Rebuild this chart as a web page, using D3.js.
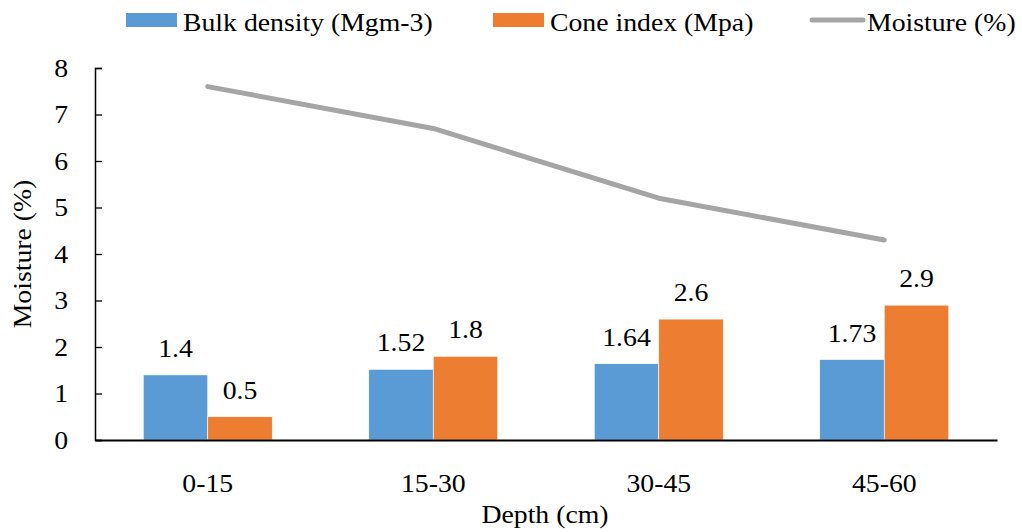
<!DOCTYPE html>
<html>
<head>
<meta charset="utf-8">
<script src="https://cdn.jsdelivr.net/npm/d3@7"></script>
<style>
  body { margin: 0; background: #fff; }
</style>
</head>
<body>
<svg id="chart" width="1022" height="532"></svg>
<script>
// data
const depths = ["0-15", "15-30", "30-45", "45-60"];
const bulkDensity = [1.4, 1.52, 1.64, 1.73];
const coneIndex = [0.5, 1.8, 2.6, 2.9];
const moisture = [7.6, 6.7, 5.2, 4.3];
const yTicks = [0, 1, 2, 3, 4, 5, 6, 7, 8];

const barSeries = [
  { key: "bulk", name: "Bulk density (Mgm-3)", values: bulkDensity, color: "#5b9bd5" },
  { key: "cone", name: "Cone index (Mpa)", values: coneIndex, color: "#ed7d31" }
];

const svg = d3.select("#chart");
const plotLeft = 95, plotRight = 997, plotTop = 68, plotBottom = 440;
const font = "'Liberation Serif', 'Times New Roman', Tinos, serif";
const fs = 25;
const stretch = 1.11; // reference text is a bit wider than it is tall

const x = d3.scaleBand().domain(depths).range([plotLeft, plotRight]).padding(0);
const inner = d3.scaleBand().domain(barSeries.map(s => s.key))
  .range([-64.5, 64.5]).padding(0);
const y = d3.scaleLinear().domain([0, 8]).range([plotBottom, plotTop]);

// bars
barSeries.forEach(s => {
  const g = svg.append("g");
  g.selectAll("rect")
    .data(depths)
    .enter().append("rect")
    .attr("x", (d, i) => x(d) + x.bandwidth() / 2 + inner(s.key))
    .attr("y", (d, i) => y(s.values[i]))
    .attr("width", inner.bandwidth())
    .attr("height", (d, i) => y(0) - y(s.values[i]))
    .attr("fill", s.color)
    .attr("stroke", "#fff")
    .attr("stroke-width", 0.6);

  g.selectAll("text")
    .data(depths)
    .enter().append("text")
    .attr("x", (d, i) => x(d) + x.bandwidth() / 2 + inner(s.key) + inner.bandwidth() / 2)
    .attr("y", (d, i) => y(s.values[i]) - 18)
    .attr("text-anchor", "middle")
    .text((d, i) => s.values[i]);
});

// moisture line
const line = d3.line()
  .x((d, i) => x(depths[i]) + x.bandwidth() / 2)
  .y(d => y(d));

svg.append("path")
  .datum(moisture)
  .attr("d", line)
  .attr("fill", "none")
  .attr("stroke", "#a5a5a5")
  .attr("stroke-width", 5)
  .attr("stroke-linecap", "round")
  .attr("stroke-linejoin", "round");

// y axis
const yAxis = svg.append("g")
  .attr("transform", `translate(${plotLeft},0)`)
  .call(d3.axisLeft(y).tickValues(yTicks).tickSizeInner(-7).tickSizeOuter(-7).tickPadding(27));
yAxis.select(".domain").attr("stroke", "#000").attr("stroke-width", 1.5);
yAxis.selectAll(".tick line").attr("stroke", "#000").attr("stroke-width", 1.3);

// x axis
const xAxis = svg.append("g")
  .attr("transform", `translate(0,${plotBottom})`)
  .call(d3.axisBottom(x).tickSize(0).tickPadding(34));
xAxis.select(".domain").attr("stroke", "#000").attr("stroke-width", 1.8);

// axis titles
svg.append("text")
  .attr("transform", "translate(31,254) rotate(-90)")
  .attr("text-anchor", "middle")
  .text("Moisture (%)");

svg.append("text")
  .attr("x", 545)
  .attr("y", 523)
  .attr("text-anchor", "middle")
  .text("Depth (cm)");

// legend
const legend = svg.append("g");
const legendItems = [
  { name: barSeries[0].name, color: barSeries[0].color, type: "rect", x: 126 },
  { name: barSeries[1].name, color: barSeries[1].color, type: "rect", x: 493 },
  { name: "Moisture (%)", color: "#a5a5a5", type: "line", x: 810 }
];
legendItems.forEach(it => {
  if (it.type === "rect") {
    legend.append("rect")
      .attr("x", it.x).attr("y", 13)
      .attr("width", 51).attr("height", 14)
      .attr("fill", it.color);
  } else {
    legend.append("line")
      .attr("x1", it.x + 2).attr("x2", it.x + 53)
      .attr("y1", 20).attr("y2", 20)
      .attr("stroke", it.color)
      .attr("stroke-width", 5)
      .attr("stroke-linecap", "round");
  }
  legend.append("text")
    .attr("x", it.x + 57)
    .attr("y", 31)
    .text(it.name);
});

// one font for every text, widened around its own anchor point
svg.selectAll("text").each(function() {
  const t = d3.select(this);
  const tx = +t.attr("x") || 0, ty = +t.attr("y") || 0;
  const prev = t.attr("transform") || "";
  t.attr("font-family", null)
    .style("font-family", font)
    .style("font-size", fs + "px")
    .style("fill", "#000")
    .attr("transform", `${prev} translate(${tx},${ty}) scale(${stretch},1) translate(${-tx},${-ty})`);
});
</script>
</body>
</html>
